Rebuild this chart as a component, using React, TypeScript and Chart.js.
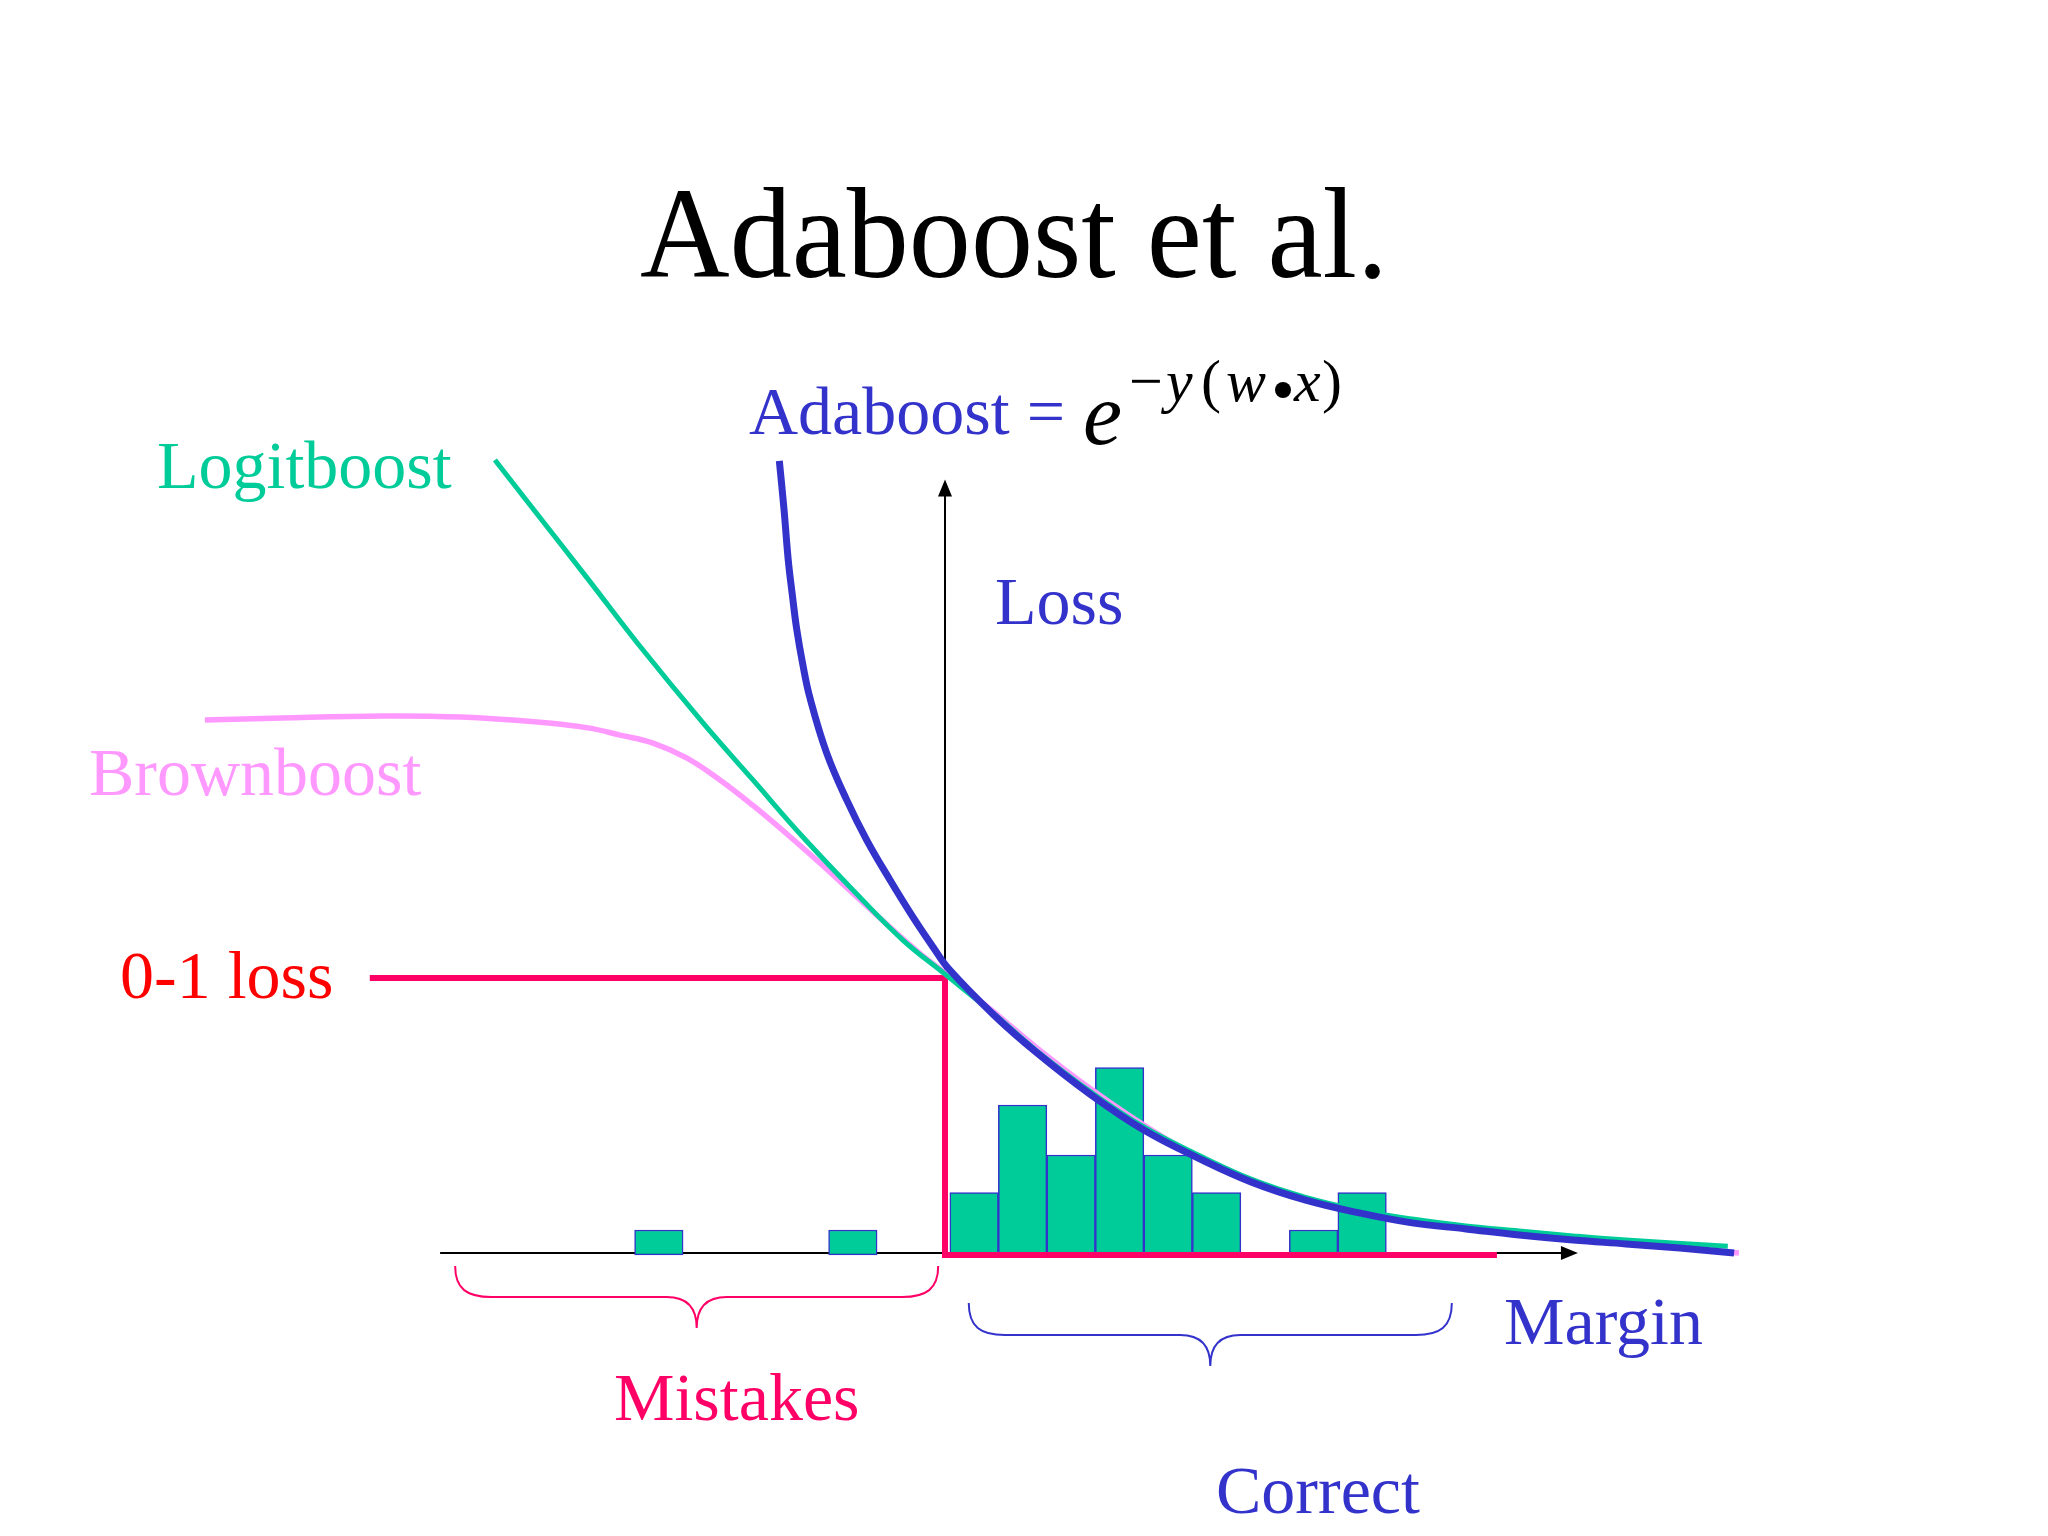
import { useEffect, useRef } from "react";
import { Chart, registerables } from "chart.js";

Chart.register(...registerables);

// margin in histogram-bin widths, loss scaled so that the 0-1 step is 1
const binCenters = [-5.9, -1.9, 0.6, 1.6, 2.6, 3.6, 4.6, 5.6, 7.6, 8.6];
const binCounts = [2, 2, 5, 12, 8, 15, 8, 5, 2, 5];

const adaboostX = [-3.416, -3.32, -3.231, -3.148, -3.058, -2.934, -2.784, -2.439, -2.027, -1.614, -1.134, -0.66, -0.247, 0.062, 1.01, 1.9, 3.01, 4.1, 5.22, 6.31, 7.42, 8.54, 9.63, 10.74, 11.84, 12.95, 14.04, 15.15, 16.27];
const adaboostLoss = [2.867, 2.693, 2.507, 2.383, 2.26, 2.134, 2.011, 1.812, 1.643, 1.498, 1.354, 1.22, 1.112, 1.036, 0.866, 0.729, 0.578, 0.451, 0.35, 0.264, 0.199, 0.152, 0.116, 0.094, 0.072, 0.054, 0.04, 0.025, 0.007];

const logitX = [-9.28, -8.41, -7.36, -6.31, -4.99, -3.96, -2.93, -1.9, -0.87, 0, 1.01, 1.9, 3.01, 4.1, 5.22, 6.31, 7.42, 8.54, 9.63, 10.74, 11.84, 12.95, 14.04, 16.14];
const logitLoss = [2.87, 2.675, 2.44, 2.202, 1.921, 1.715, 1.509, 1.318, 1.137, 1.014, 0.87, 0.736, 0.588, 0.462, 0.361, 0.274, 0.209, 0.162, 0.13, 0.105, 0.087, 0.069, 0.054, 0.032];

const brownX = [-15.26, -13.67, -11.57, -9.98, -8.41, -7.36, -6.7, -6.02, -5.32, -4.64, -3.96, -3.26, -2.58, -1.9, -1.2, -0.52, 0, 1.01, 1.9, 3.01, 4.1, 5.22, 7.42, 9.63, 11.84, 14.04, 16.37];
const brownLoss = [1.931, 1.939, 1.946, 1.942, 1.924, 1.903, 1.877, 1.848, 1.794, 1.715, 1.623, 1.52, 1.415, 1.306, 1.194, 1.089, 1.018, 0.877, 0.747, 0.599, 0.469, 0.357, 0.202, 0.119, 0.076, 0.043, 0.007];

const zeroOneX = [-11.86, 0, 0, 11.38];
const zeroOneLoss = [1, 1, 0, 0];

const pts = (xs: number[], ys: number[]) => xs.map((x, i) => ({ x, y: ys[i] }));

const SERIF = "'Liberation Serif', 'Times New Roman', serif";
const GREEN = "#00CC99";
const BLUE = "#3333CC";
const PINK = "#FF99FF";
const RED = "#FF0066";

function brace(ctx: CanvasRenderingContext2D, x0: number, x1: number, top: number, mid: number, tip: number, color: string) {
  const cx = (x0 + x1) / 2;
  ctx.save();
  ctx.strokeStyle = color;
  ctx.lineWidth = 2;
  ctx.beginPath();
  ctx.moveTo(x0, top);
  ctx.bezierCurveTo(x0, mid - 8, x0 + 12, mid, x0 + 36, mid);
  ctx.lineTo(cx - 30, mid);
  ctx.bezierCurveTo(cx - 10, mid, cx, mid + 10, cx, tip);
  ctx.bezierCurveTo(cx, mid + 10, cx + 10, mid, cx + 30, mid);
  ctx.lineTo(x1 - 36, mid);
  ctx.bezierCurveTo(x1 - 12, mid, x1, mid - 8, x1, top);
  ctx.stroke();
  ctx.restore();
}

const overlay = {
  id: "overlay",
  beforeDatasetsDraw(chart: any) {
    const { ctx, scales } = chart;
    const x = scales.x;
    const y = scales.y;
    const ox = x.getPixelForValue(0);
    const oy = y.getPixelForValue(0) - 2;
    const xEnd = x.getPixelForValue(13.05);
    const yEnd = y.getPixelForValue(2.8);
    ctx.save();
    ctx.strokeStyle = "#000";
    ctx.fillStyle = "#000";
    ctx.lineWidth = 2;
    ctx.beginPath();
    ctx.moveTo(x.getPixelForValue(-10.41), oy);
    ctx.lineTo(xEnd - 14, oy);
    ctx.moveTo(ox, oy);
    ctx.lineTo(ox, yEnd + 14);
    ctx.stroke();
    ctx.beginPath();
    ctx.moveTo(xEnd, oy);
    ctx.lineTo(xEnd - 17, oy - 7);
    ctx.lineTo(xEnd - 17, oy + 7);
    ctx.closePath();
    ctx.fill();
    ctx.beginPath();
    ctx.moveTo(ox, yEnd);
    ctx.lineTo(ox - 7, yEnd + 17);
    ctx.lineTo(ox + 7, yEnd + 17);
    ctx.closePath();
    ctx.fill();
    ctx.restore();
  },
  afterDraw(chart: any) {
    const { ctx, scales } = chart;
    const x = scales.x;
    ctx.save();
    ctx.textBaseline = "alphabetic";

    ctx.textAlign = "center";
    ctx.fillStyle = "#000";
    ctx.font = `130px ${SERIF}`;
    ctx.fillText("Adaboost et al.", 1014, 277, 748);

    ctx.textAlign = "left";
    ctx.font = `68px ${SERIF}`;
    ctx.fillStyle = GREEN;
    ctx.fillText("Logitboost", 157, 488);
    ctx.fillStyle = PINK;
    ctx.fillText("Brownboost", 89, 795);
    ctx.fillStyle = "#FF0000";
    ctx.fillText("0-1 loss", 120, 998);
    ctx.fillStyle = BLUE;
    ctx.fillText("Loss", 995, 624);
    ctx.fillText("Margin", 1504, 1344);
    ctx.fillText("Correct", 1216, 1513);
    ctx.fillText("Adaboost =", 749, 434);
    ctx.fillStyle = RED;
    ctx.fillText("Mistakes", 614, 1420);

    // exponent of the Adaboost formula
    ctx.fillStyle = "#000";
    ctx.font = `italic 88px ${SERIF}`;
    ctx.fillText("e", 1083, 444);
    const upright = `60px ${SERIF}`;
    const italic = `italic 60px ${SERIF}`;
    const parts: [string, string, number][] = [
      ["\u2212", upright, 1129],
      ["y", italic, 1166],
      ["(", upright, 1201],
      ["w", italic, 1226],
      ["x", italic, 1294],
      [")", upright, 1322],
    ];
    for (const [t, f, px] of parts) {
      ctx.font = f;
      ctx.fillText(t, px, 401);
    }
    ctx.beginPath();
    ctx.arc(1283, 390, 8, 0, Math.PI * 2);
    ctx.fill();

    brace(ctx, x.getPixelForValue(-10.1), x.getPixelForValue(-0.14), 1266, 1297, 1328, RED);
    brace(ctx, x.getPixelForValue(0.49), x.getPixelForValue(10.45), 1303, 1335, 1366, BLUE);
    ctx.restore();
  },
};

export default function App() {
  const canvasRef = useRef<HTMLCanvasElement | null>(null);

  useEffect(() => {
    if (!canvasRef.current) return;
    const curve = {
      type: "line" as const,
      pointRadius: 0,
      fill: false,
      tension: 0.4,
      yAxisID: "y",
    };
    const chart = new Chart(canvasRef.current, {
      type: "line",
      data: {
        datasets: [
          { ...curve, label: "Adaboost", data: pts(adaboostX, adaboostLoss), borderColor: BLUE, borderWidth: 7, order: 0 },
          { ...curve, label: "Logitboost", data: pts(logitX, logitLoss), borderColor: GREEN, borderWidth: 5, order: 1 },
          { ...curve, label: "Brownboost", data: pts(brownX, brownLoss), borderColor: PINK, borderWidth: 5.5, order: 2 },
          {
            type: "line",
            label: "0-1 loss",
            data: pts(zeroOneX, zeroOneLoss),
            borderColor: RED,
            borderWidth: 6,
            pointRadius: 0,
            tension: 0,
            borderJoinStyle: "miter",
            yAxisID: "y",
            order: 3,
          },
          {
            type: "bar",
            label: "Margins",
            data: pts(binCenters, binCounts),
            backgroundColor: GREEN,
            borderColor: BLUE,
            borderWidth: 1.5,
            borderSkipped: false,
            barPercentage: 1,
            categoryPercentage: 1,
            yAxisID: "yCount",
            order: 4,
          },
        ] as any,
      },
      options: {
        animation: false,
        responsive: false,
        devicePixelRatio: 1,
        layout: { padding: { left: 23.5, right: 36, top: 147, bottom: 4 } },
        plugins: { legend: { display: false }, tooltip: { enabled: false } },
        scales: {
          x: { type: "linear", min: -19, max: 22, display: false, offset: false },
          y: { type: "linear", min: -1, max: 4, display: false },
          yCount: { type: "linear", min: -22.16, max: 88.64, display: false },
        },
      },
      plugins: [overlay],
    });
    return () => chart.destroy();
  }, []);

  return (
    <div style={{ position: "absolute", left: 0, top: 0, width: 2048, height: 1536, background: "#fff" }}>
      <canvas ref={canvasRef} width={2048} height={1536} style={{ width: 2048, height: 1536 }} />
    </div>
  );
}
